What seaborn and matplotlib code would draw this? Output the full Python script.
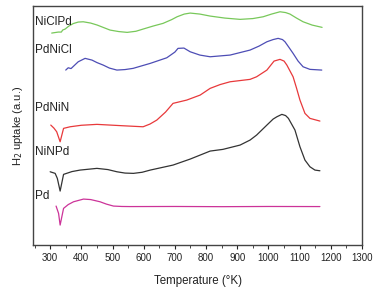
import pandas as pd
import numpy as np
import matplotlib
matplotlib.use('Agg')
import matplotlib.pyplot as plt
import seaborn as sns
from matplotlib.ticker import MultipleLocator

# 各曲线数据（温度 K，吸氢量 任意单位）
niclpd_t = [305, 326, 336, 340, 348, 360, 374, 390, 406, 430, 451, 492, 520, 547, 575, 598, 630, 662, 690, 707, 730, 749, 780, 813, 860, 909, 950, 983, 1010, 1037, 1055, 1069, 1090, 1111, 1140, 1172]
niclpd_y = [212, 213, 213, 215, 216, 219, 221.5, 223, 223.3, 222, 220, 215, 213.5, 212.7, 213.8, 216, 219, 221.7, 225.5, 228.3, 231, 232, 231, 229, 227, 225.7, 226.5, 228.3, 231, 233.3, 232.5, 231, 227, 223.3, 220, 217.7]

pdnicl_t = [350, 358, 367, 390, 412, 434, 450, 470, 490, 514, 540, 566, 621, 674, 700, 710, 729, 749, 780, 813, 877, 941, 970, 995, 1015, 1031, 1045, 1053, 1065, 1079, 1095, 1111, 1133, 1171]
pdnicl_y = [175, 177.3, 176.5, 183.3, 186.7, 185, 182.5, 180, 177, 175, 175.5, 176.7, 181.7, 187.3, 193, 196.7, 197, 193.3, 190, 188.3, 190, 195, 199, 203.3, 205.5, 206.7, 205.5, 203.3, 198, 191.7, 184, 178.3, 175.7, 175]

pdnin_t = [302, 312, 321, 332, 343, 364, 400, 450, 534, 598, 620, 642, 670, 694, 738, 781, 813, 845, 877, 941, 962, 995, 1018, 1037, 1050, 1059, 1079, 1090, 1101, 1117, 1133, 1165]
pdnin_y = [120, 117, 113.3, 103.3, 116.7, 118.3, 119.8, 120.7, 119.3, 118.3, 121, 125, 133, 141.7, 145, 150, 156.7, 160.5, 163.3, 165.7, 168.3, 175, 184, 185.7, 184, 180, 168.3, 157, 145, 131.7, 126.7, 124]

ninpd_t = [300, 316, 323, 332, 343, 370, 396, 450, 485, 514, 540, 567, 595, 621, 694, 749, 813, 854, 909, 941, 962, 995, 1015, 1027, 1043, 1055, 1064, 1085, 1101, 1117, 1133, 1149, 1165]
ninpd_y = [73.3, 71.7, 66.7, 54, 70.7, 73.5, 75, 76.7, 75.5, 73.3, 72, 71.7, 72.8, 75, 80, 86, 94, 95.7, 100, 105, 110, 120, 126, 128.3, 130.7, 129.5, 126.7, 115, 98.3, 85, 78.3, 75, 74.3]

pd_t = [319, 327, 332, 343, 358, 375, 407, 430, 460, 480, 503, 530, 556, 700, 850, 1000, 1165]
pd_y = [39, 31.7, 20, 36.7, 40.5, 43.3, 46, 45.5, 43.3, 41, 39, 38.6, 38.5, 38.6, 38.4, 38.6, 38.5]

names = ['NiClPd', 'PdNiCl', 'PdNiN', 'NiNPd', 'Pd']
label_y = [223.3, 195, 137, 93.3, 49.3]
colors = ['#78c85a', '#4d4db5', '#e8393b', '#333333', '#cc3399']

series = [(niclpd_t, niclpd_y), (pdnicl_t, pdnicl_y), (pdnin_t, pdnin_y),
          (ninpd_t, ninpd_y), (pd_t, pd_y)]
df = pd.concat([pd.DataFrame({'T': t, 'H2': y, 'sample': n})
                for (t, y), n in zip(series, names)], ignore_index=True)

sns.set_style('ticks')
plt.rcParams['font.family'] = ['Liberation Sans', 'DejaVu Sans']

fig = plt.figure(figsize=(3.78, 2.89), dpi=100)
ax = fig.add_axes([0.0873, 0.152, 0.8704, 0.827])
sns.lineplot(data=df, x='T', y='H2', hue='sample', palette=dict(zip(names, colors)),
             hue_order=names, sort=False, estimator=None, lw=0.9, legend=False, ax=ax)

for n, y in zip(names, label_y):
    ax.text(250, y, n, fontsize=8.5, va='center', ha='left', color='#222222')

ax.set_xlim(245, 1300)
ax.set_ylim(0, 239)
ax.xaxis.set_major_locator(MultipleLocator(100))
ax.xaxis.set_minor_locator(MultipleLocator(50))
ax.set_xticks(range(300, 1301, 100))
ax.set_yticks([])
ax.tick_params(axis='x', direction='out', length=3, width=0.8, labelsize=7, pad=3, colors='#222222')
ax.tick_params(axis='x', which='minor', direction='out', length=2, width=0.6)
for s in ax.spines.values():
    s.set_color('#444444')
    s.set_linewidth(1.0)
ax.set_xlabel('Temperature (°K)', fontsize=8.3, labelpad=8, color='#222222')
ax.set_ylabel('H$_2$ uptake (a.u.)', fontsize=8, labelpad=6, color='#222222')

plt.savefig('out.png', dpi=100)
